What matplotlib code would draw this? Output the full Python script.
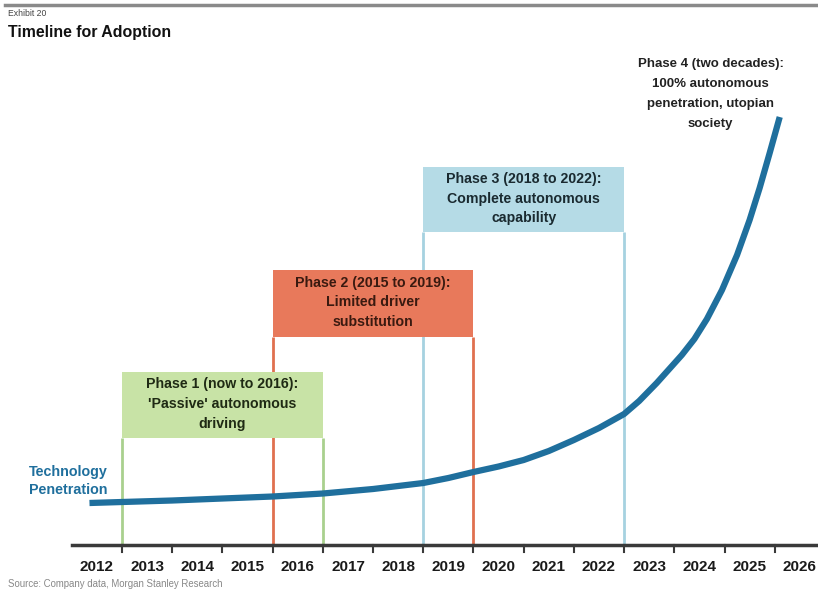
import matplotlib.pyplot as plt
from matplotlib.patches import Rectangle

# --- data ---
years = list(range(2012, 2027))
curve_x = [2011.85, 2012.5, 2013.5, 2014.5, 2015.5, 2016.5, 2017.5, 2018.5, 2019.0,
           2019.5, 2020.0, 2020.5, 2021.0, 2021.5, 2022.0, 2022.5, 2022.8, 2023.15,
           2023.4, 2023.65, 2023.9, 2024.15, 2024.45, 2024.75, 2025.0, 2025.2,
           2025.4, 2025.6]
curve_y = [42, 43, 44.5, 46.5, 48.5, 51.5, 56, 62, 67,
           73, 78.5, 85, 94, 105, 117, 131, 144, 162,
           176, 190, 206, 226, 255, 290, 325, 357,
           392, 428]

phase_labels = ["Phase 1 (now to 2016):\n'Passive' autonomous\ndriving",
                "Phase 2 (2015 to 2019):\nLimited driver\nsubstitution",
                "Phase 3 (2018 to 2022):\nComplete autonomous\ncapability"]
phase_start = [2012.5, 2015.5, 2018.5]
phase_end = [2016.5, 2019.5, 2022.5]
phase4_label = "Phase 4 (two decades):\n100% autonomous\npenetration, utopian\nsociety"

# --- styling ---
header_bottom = [107, 208, 313]
header_top = [173, 275, 378]
fills = ['#c8e3a6', '#e8795b', '#b5dbe6']
edges = ['#a9d08e', '#e0704f', '#a6d2e0']
text_cols = ['#1f2a14', '#3a1a10', '#1a2a30']
curve_col = '#1f6f9d'
FONT = ['Liberation Sans', 'DejaVu Sans']

fig = plt.figure(figsize=(8.18, 5.91), dpi=100)
ax = fig.add_axes([0, 0, 1, 1])
x_per_px = 1 / 50.2
ax.set_xlim(2012 - 97 * x_per_px, 2012 + 721 * x_per_px)
ax.set_ylim(-46, 545)
ax.axis('off')

# phase boxes
for i in range(3):
    ax.vlines([phase_start[i], phase_end[i]], 0, header_bottom[i],
              color=edges[i], lw=2, zorder=1)
    ax.add_patch(Rectangle((phase_start[i], header_bottom[i]),
                           phase_end[i] - phase_start[i],
                           header_top[i] - header_bottom[i],
                           facecolor=fills[i], edgecolor='none', zorder=2))
    ax.text((phase_start[i] + phase_end[i]) / 2,
            (header_bottom[i] + header_top[i]) / 2 + 1, phase_labels[i],
            ha='center', va='center', fontsize=10.2, fontweight='bold',
            color=text_cols[i], family=FONT, linespacing=1.52, zorder=4)

# adoption curve
ax.plot(curve_x, curve_y, color=curve_col, lw=4.5, solid_capstyle='butt',
        solid_joinstyle='round', zorder=3)

# time axis
ax.plot([2011.5, 2026.4], [0, 0], color='#3a3a3a', lw=2.5, zorder=3)
for y in years[:-1]:
    ax.plot([y + 0.5, y + 0.5], [0, -7], color='#3a3a3a', lw=1.5, zorder=3)
for y in years:
    ax.text(y, -22, str(y), ha='center', va='center', fontsize=11,
            fontweight='bold', color='#1a1a1a', family=FONT)

ax.text(2024.22, 451, phase4_label, ha='center', va='center', fontsize=9.5,
        fontweight='bold', color='#222222', family=FONT, linespacing=1.9)
ax.text(2011.42, 64, "Technology\nPenetration", ha='center', va='center',
        fontsize=10.3, fontweight='bold', color=curve_col, family=FONT,
        linespacing=1.4)

# header / footer
fig.add_artist(plt.Line2D([5 / 818, 1], [1 - 5 / 591, 1 - 5 / 591],
                          color='#8a8a8a', lw=2.5))
fig.text(8 / 818, 1 - 14 / 591, "Exhibit 20", fontsize=6.2, color='#444444',
         va='center', family=FONT)
fig.text(8 / 818, 1 - 32 / 591, "Timeline for Adoption", fontsize=11.4,
         fontweight='bold', color='#111111', va='center', family=FONT)
fig.text(8 / 818, 1 - 584 / 591, "Source: Company data, Morgan Stanley Research",
         fontsize=6.9, color='#888888', va='center', family=FONT)

fig.savefig('out.png', dpi=100)
